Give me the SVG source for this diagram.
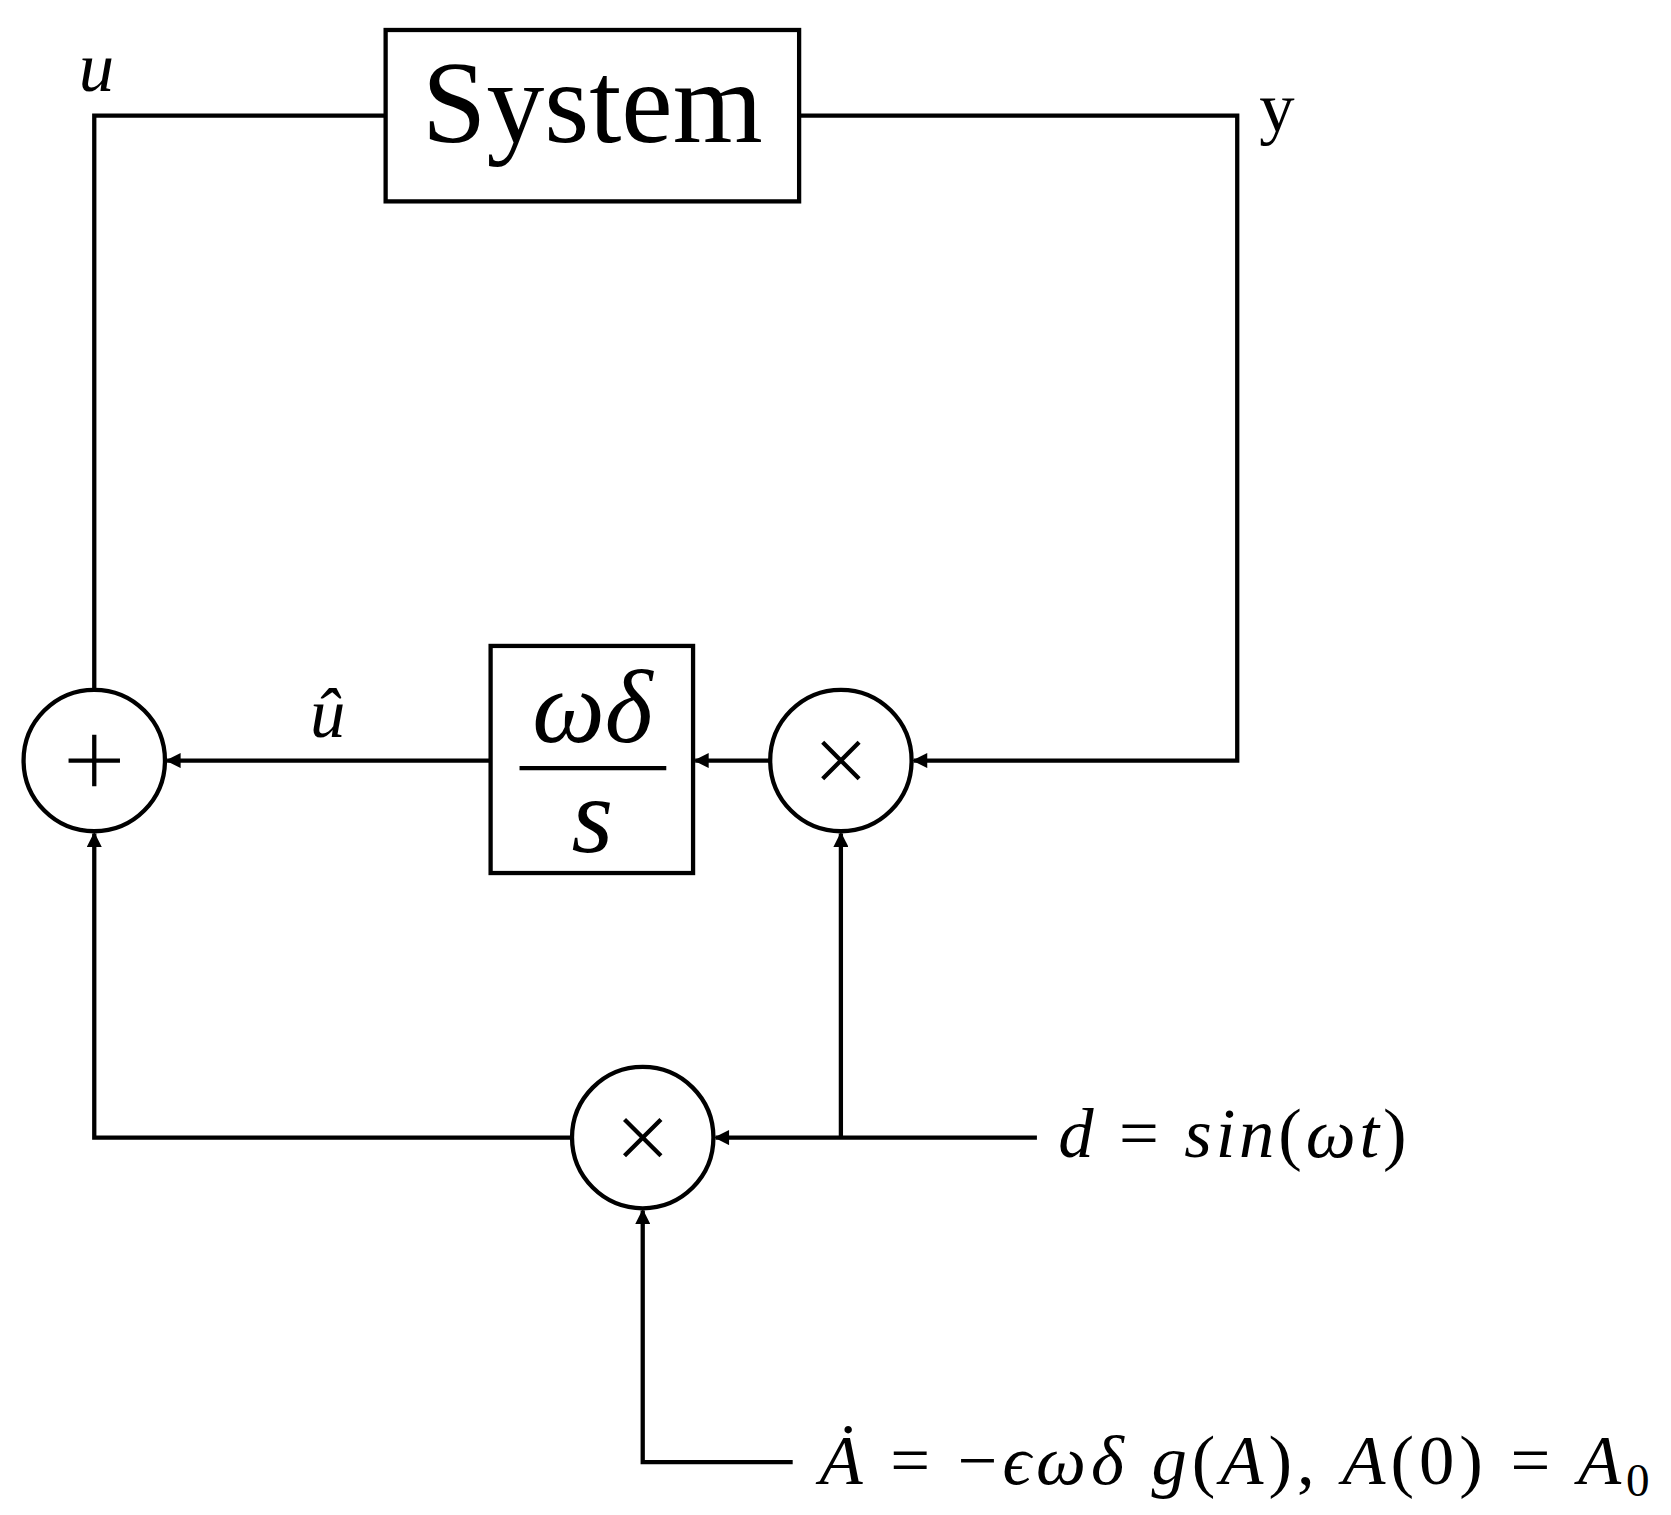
<svg xmlns="http://www.w3.org/2000/svg" width="1671" height="1515" viewBox="0 0 1671 1515">
<style>
.l{fill:none;stroke:#000;stroke-width:4}
.t{font-family:"Liberation Serif",serif;fill:#000}
.i{font-style:italic}
</style>
<defs><marker id="a" viewBox="0 0 10 10" refX="9" refY="5" markerWidth="18" markerHeight="14" markerUnits="userSpaceOnUse" orient="auto"><path d="M0,0L10,5L0,10z"/></marker></defs>
<rect width="1671" height="1515" fill="#fff"/>
<g transform="scale(1.0712)">
<g id="connectors" class="l">
<polyline points="360,108 88,108 88,643"/>
<polyline points="746,108 1155,108 1155,710 853,710" marker-end="url(#a)"/>
<line x1="719" y1="710" x2="649" y2="710" marker-end="url(#a)"/>
<line x1="458" y1="710" x2="156" y2="710" marker-end="url(#a)"/>
<polyline points="534,1062 88,1062 88,778" marker-end="url(#a)"/>
<line x1="968" y1="1062" x2="668" y2="1062" marker-end="url(#a)"/>
<line x1="785" y1="1062" x2="785" y2="778" marker-end="url(#a)"/>
<polyline points="740,1365 600,1365 600,1130" marker-end="url(#a)"/>
</g>
<g id="system"><rect class="l" x="360" y="28" width="386" height="160"/><text class="t" x="553" y="133" font-size="108" text-anchor="middle">System</text></g>
<g id="integrator"><rect class="l" x="458" y="603" width="189" height="212"/><text class="t i" x="553" y="693" font-size="96" text-anchor="middle">ωδ</text><line class="l" x1="485" y1="717" x2="622" y2="717" stroke-width="5"/><text class="t i" x="553" y="795" font-size="100" text-anchor="middle">s</text></g>
<g id="sum"><circle class="l" cx="88" cy="710" r="66"/><path class="l" d="M64,710H112M88,686V734" stroke-width="2"/></g>
<g id="mult1"><circle class="l" cx="785" cy="710" r="66"/><path class="l" d="M768,693L802,727M802,693L768,727" stroke-width="2"/></g>
<g id="mult2"><circle class="l" cx="600" cy="1062" r="66"/><path class="l" d="M583,1045L617,1079M617,1045L583,1079" stroke-width="2"/></g>
<g id="labels">
<text class="t i" x="90" y="85" font-size="66" text-anchor="middle">u</text>
<text class="t" x="1192" y="122" font-size="66" text-anchor="middle">y</text>
<text class="t i" x="306" y="688" font-size="66" text-anchor="middle">û</text>
<text class="t" x="988" y="1080" font-size="66" textLength="325" lengthAdjust="spacing"><tspan class="i">d</tspan> = <tspan class="i">sin</tspan>(<tspan class="i">ωt</tspan>)</text>
<text class="t" x="765" y="1385" font-size="66" textLength="775" lengthAdjust="spacing"><tspan class="i">Ȧ</tspan> = −<tspan class="i">ϵωδ g</tspan>(<tspan class="i">A</tspan>), <tspan class="i">A</tspan>(0) = <tspan class="i">A</tspan><tspan font-size="44" dy="12">0</tspan></text>
</g>
</g>
</svg>
